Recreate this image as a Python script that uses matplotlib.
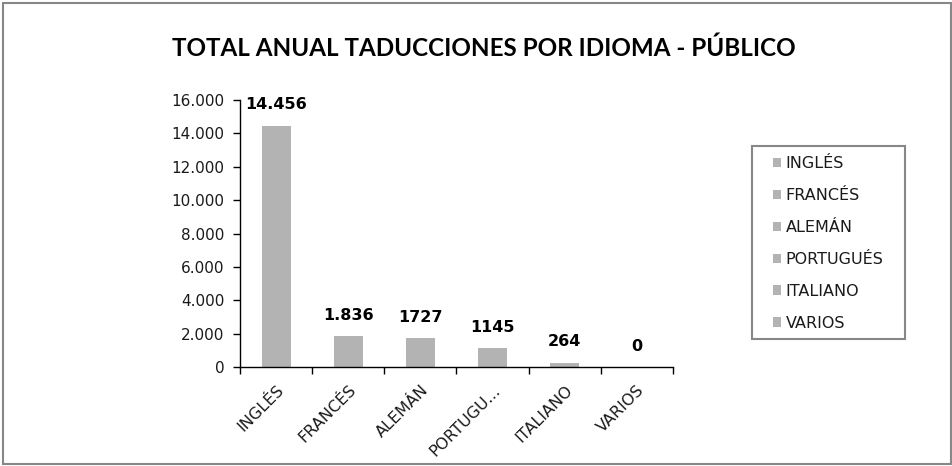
import matplotlib
matplotlib.use("Agg")
import matplotlib.pyplot as plt
from matplotlib.patches import Rectangle
from matplotlib.ticker import FuncFormatter
import numpy as np

plt.rcParams["font.family"] = ["DejaVu Sans"]

categories = ["INGLÉS", "FRANCÉS", "ALEMÁN", "PORTUGUÉS", "ITALIANO", "VARIOS"]
tick_labels = ["INGLÉS", "FRANCÉS", "ALEMÁN", "PORTUGU...", "ITALIANO", "VARIOS"]
values = [14456, 1836, 1727, 1145, 264, 0]
value_labels = ["14.456", "1.836", "1727", "1145", "264", "0"]
title = "TOTAL ANUAL TADUCCIONES POR IDIOMA - PÚBLICO"

W, H = 952, 466
fig = plt.figure(figsize=(W / 100, H / 100), dpi=100)
fig.patch.set_facecolor("white")

def fx(px):
    return px / W

def fy(py):
    return 1 - py / H

# outer border
fig.add_artist(Rectangle((fx(3), fy(464)), fx(948), 461 / H, transform=fig.transFigure,
                         fill=False, edgecolor="#878787", linewidth=1.5))

ax = fig.add_axes([fx(240), fy(367), fx(673 - 240), (367 - 100) / H])
x = np.arange(len(categories))
bars = ax.bar(x, values, width=0.4, color="#B3B3B3", zorder=2)

ax.set_xlim(-0.5, len(categories) - 0.5)
ax.set_ylim(0, 16000)
ax.set_yticks(np.arange(0, 16001, 2000))
ax.yaxis.set_major_formatter(FuncFormatter(lambda v, p: f"{int(v):,}".replace(",", ".")))
ax.tick_params(axis="y", direction="out", length=5, width=1, labelsize=11, pad=6, colors="black")
for lab in ax.get_yticklabels():
    lab.set_color("#1a1a1a")

ax.set_xticks(np.arange(-0.5, len(categories), 1.0))
ax.set_xticklabels([])
ax.tick_params(axis="x", which="major", direction="out", length=5, width=1)
ax.set_xticks(x, tick_labels, minor=True)
ax.tick_params(axis="x", which="minor", length=0, labelsize=11.5, pad=11)
for lab in ax.get_xticklabels(minor=True):
    lab.set_rotation(45)
    lab.set_ha("right")
    lab.set_va("top")
    lab.set_rotation_mode("anchor")
    lab.set_color("#1a1a1a")

for s in ["top", "right"]:
    ax.spines[s].set_visible(False)
for s in ["left", "bottom"]:
    ax.spines[s].set_color("black")
    ax.spines[s].set_linewidth(1)

for xi, v, t in zip(x, values, value_labels):
    ax.annotate(t, (xi, v), xytext=(0, 15), textcoords="offset points",
                ha="center", va="center", fontsize=11.5, fontweight="bold")

fig.text(fx(484), fy(48), title, ha="center", va="center", fontsize=17.4,
         fontweight="bold", family="Lato")

# legend frame
fig.add_artist(Rectangle((fx(752), fy(339)), fx(905 - 752), (339 - 146) / H,
                         transform=fig.transFigure, fill=False,
                         edgecolor="#878787", linewidth=1.5))
leg = fig.legend(list(bars.patches), categories, loc="upper left",
                 bbox_to_anchor=(fx(765), fy(148)), frameon=False,
                 fontsize=11.5, handlelength=0.5, handleheight=0.5,
                 handletextpad=0.3, labelspacing=1.06, borderpad=0)
for t in leg.get_texts():
    t.set_color("#1a1a1a")

fig.savefig("out.png", dpi=100)
